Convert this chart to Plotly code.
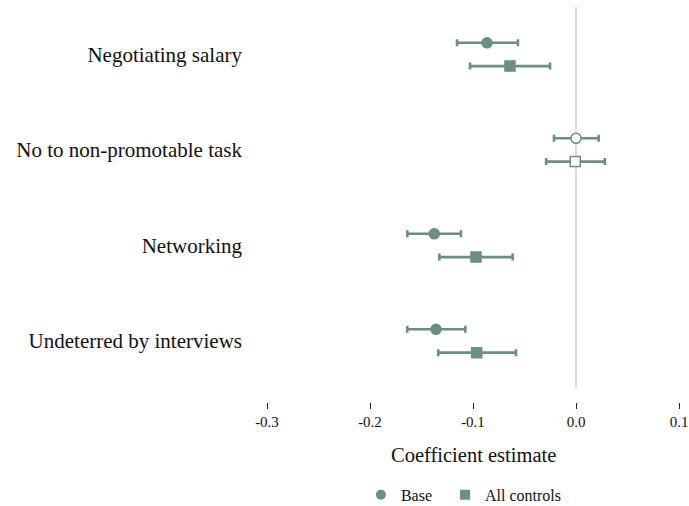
import plotly.graph_objects as go

# Outcomes, listed top to bottom
categories = [
    "Negotiating salary",
    "No to non-promotable task",
    "Networking",
    "Undeterred by interviews",
]

# Base specification: estimate with 95% CI bounds
base_est = [-0.0864, 0.0000, -0.1376, -0.1359]
base_lo = [-0.1155, -0.0214, -0.1638, -0.1638]
base_hi = [-0.0564, 0.0220, -0.1117, -0.1075]

# Specification with all controls
ctrl_est = [-0.0641, -0.0007, -0.0971, -0.0964]
ctrl_lo = [-0.1029, -0.0290, -0.1327, -0.1337]
ctrl_hi = [-0.0252, 0.0280, -0.0615, -0.0583]

# Hollow markers flag estimates that are not significant
base_hollow = [False, True, False, False]
ctrl_hollow = [False, True, False, False]

x_ticks = [-0.3, -0.2, -0.1, 0.0, 0.1]
x_tick_labels = ["-0.3", "-0.2", "-0.1", "0.0", "0.1"]

GREEN = "#6b8f80"
FONT = "Palatino Linotype, Palatino, Book Antiqua, Liberation Serif, serif"
OFFSET = 0.122

fig = go.Figure()


def add_series(name, est, lo, hi, hollow, symbol, size, shift, legend_pad=""):
    ys = [i + shift for i in range(len(est))]
    plus = [h - e for h, e in zip(hi, est)]
    minus = [e - l for e, l in zip(est, lo)]
    fill = ["white" if h else GREEN for h in hollow]
    fig.add_trace(go.Scatter(
        x=est, y=ys, mode="markers", name=name,
        marker=dict(symbol=symbol, size=size, color=fill,
                    line=dict(color=GREEN, width=1.5)),
        error_x=dict(type="data", symmetric=False, array=plus,
                     arrayminus=minus, color=GREEN, thickness=2.6, width=3.5),
        showlegend=False,
    ))
    # legend entry with a solid marker
    fig.add_trace(go.Scatter(
        x=[None], y=[None], mode="markers", name=name + legend_pad,
        marker=dict(symbol=symbol, size=size, color=GREEN,
                    line=dict(color=GREEN, width=0)),
    ))


add_series("Base", base_est, base_lo, base_hi, base_hollow, "circle", 10, -OFFSET,
           legend_pad="\u00a0\u00a0")
add_series("All controls", ctrl_est, ctrl_lo, ctrl_hi, ctrl_hollow, "square", 10, OFFSET)

# Reference line at zero
fig.add_shape(type="line", xref="x", yref="y", x0=0, x1=0, y0=-0.497, y1=3.492,
              line=dict(color="#c8c8c8", width=1.2), layer="below")

fig.add_annotation(text="Coefficient estimate", xref="paper", yref="paper",
                   x=0.5, y=-0.134, xanchor="center", yanchor="middle",
                   showarrow=False, font=dict(family=FONT, size=20.5, color="#111"))

fig.update_layout(
    width=689, height=506,
    margin=dict(l=267, r=10, t=7, b=104, autoexpand=False),
    paper_bgcolor="white", plot_bgcolor="white",
    font=dict(family=FONT, color="#111"),
    xaxis=dict(range=[-0.3, 0.1], tickvals=x_ticks, ticktext=x_tick_labels,
               showgrid=False, zeroline=False, showline=False,
               ticks="outside", ticklen=6, tickwidth=1, tickcolor="#222",
               automargin=False,
               tickfont=dict(family=FONT, size=15, color="#111")),
    yaxis=dict(range=[3.639, -0.497], tickvals=list(range(len(categories))),
               ticktext=categories, showgrid=False, zeroline=False,
               showline=False, ticks="", ticklabelstandoff=24, automargin=False,
               tickfont=dict(family=FONT, size=21, color="#111")),
    legend=dict(orientation="h", x=0.478, xanchor="center", y=-0.235,
                yanchor="middle", font=dict(family=FONT, size=16, color="#111"),
                itemwidth=30),
)

fig.write_html("out.html")
